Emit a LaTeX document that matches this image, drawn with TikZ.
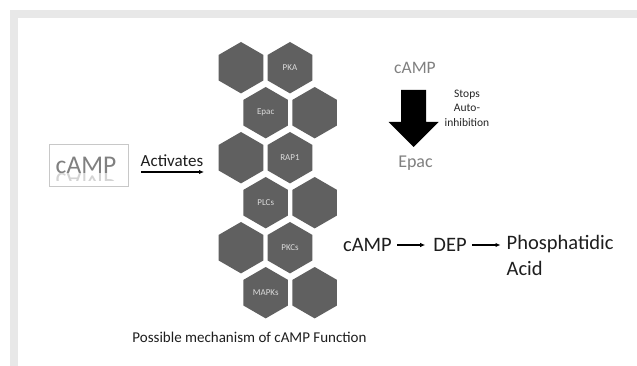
\documentclass[tikz,border=0pt]{standalone}
\usepackage{fontspec}
\setmainfont{Carlito}
\usetikzlibrary{shapes.geometric,arrows.meta}
\definecolor{framegray}{HTML}{E8E8E8}
\definecolor{hexgray}{HTML}{606060}
\definecolor{hextext}{HTML}{DCDCDC}
\definecolor{softgray}{HTML}{808080}
\definecolor{boxline}{HTML}{C8C8C8}
\definecolor{inktext}{HTML}{1E1E1E}
\newcommand{\fsz}[1]{\fontsize{#1}{#1}\selectfont}
\begin{document}
\begin{tikzpicture}[x=1pt,y=-1pt,
  hexa/.style={regular polygon, regular polygon sides=6, shape border rotate=30,
    minimum size=51.4pt, inner sep=0pt, outer sep=0pt, fill=hexgray,
    text=hextext, font=\fsz{9}},
  graylabel/.style={inner sep=0pt, text=softgray},
  inklabel/.style={inner sep=0pt, text=inktext, font=\fsz{20.5}},
  thinarrow/.style={-{Latex[length=5pt,width=4.5pt]}, line width=1.2pt, black},
]
\useasboundingbox (0,0) rectangle (637,366);
% light frame along the top and left edges
\fill[framegray] (10,10) rectangle (637,366);
\fill[white] (18,18) rectangle (637,366);

% honeycomb of signalling partners
\node[hexa] (h1a) at (241,67.7) {};
\node[hexa] (pka) at (290,67.7) {PKA};
\node[hexa] (epac) at (265.7,112.7) {Epac};
\node[hexa] (h2b) at (314.7,112.7) {};
\node[hexa] (h3a) at (241,157.7) {};
\node[hexa] (rap) at (290,157.7) {RAP1};
\node[hexa] (plc) at (265.7,202.7) {PLCs};
\node[hexa] (h4b) at (314.7,202.7) {};
\node[hexa] (h5a) at (241,247.7) {};
\node[hexa] (pkc) at (290,247.7) {PKCs};
\node[hexa] (mapk) at (265.7,292.7) {MAPKs};
\node[hexa] (h6b) at (314.7,292.7) {};

% boxed cAMP with its reflection
\node[draw=boxline, line width=1pt, minimum width=79pt, minimum height=42pt, inner sep=0pt]
  (campbox) at (88.5,166) {};
\node[graylabel, font=\fsz{25.5}, anchor=base] (camp) at (86,174) {cAMP};
\begin{scope}
  \clip (51,174) rectangle (126,180.5);
  \begin{scope}[shift={(86,174)}, yscale=-1]
    \node[inner sep=0pt, text=softgray!35, font=\fsz{25.5}, anchor=base, transform shape]
      (campmirror) at (0,0) {cAMP};
  \end{scope}
\end{scope}

% activation arrow
\node[inner sep=0pt, text=inktext, font=\fsz{17}] (act) at (172,161) {Activates};
\coordinate (actL) at (141,172);
\coordinate (actR) at (204,172);
\draw[thinarrow, line width=1.3pt] (actL) -- (actR);

% cAMP releases Epac autoinhibition
\node[graylabel, font=\fsz{17.5}] (campr) at (415,68) {cAMP};
\node[graylabel, font=\fsz{18}] (epacr) at (415.5,163) {Epac};
\fill[black] (401,90) -- (426,90) -- (426,122) -- (438.5,122) -- (413.5,147)
  -- (388.5,122) -- (401,122) -- cycle;
\node[inner sep=0pt, text=black!85, font=\fsz{11.5}, align=center]
  (stops) at (467,108) {Stops\\[3pt]Auto-\\[3pt]inhibition};

% cAMP -> DEP -> Phosphatidic Acid
\node[inklabel] (campb) at (367.5,245) {cAMP};
\node[inklabel] (dep) at (450,245) {DEP};
\node[inklabel, anchor=west] (phos) at (506.5,244) {Phosphatidic};
\node[inklabel, anchor=west] (acid) at (506.5,268) {Acid};
\draw[thinarrow] ([xshift=5pt]campb.east) -- ([xshift=-8pt]dep.west);
\draw[thinarrow] ([xshift=5pt]dep.east) -- ([xshift=-6pt]phos.west |- dep.east);

% caption
\node[inner sep=0pt, text=inktext, font=\fsz{15}] (caption) at (249.5,337)
  {Possible mechanism of cAMP Function};
\end{tikzpicture}
\end{document}
